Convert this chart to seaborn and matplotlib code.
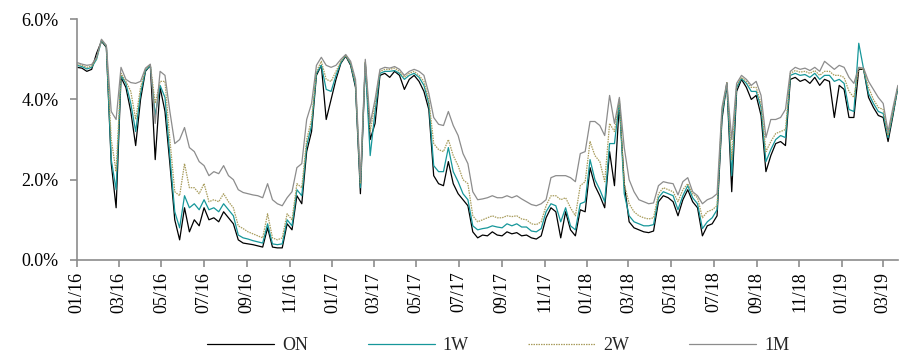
import matplotlib
matplotlib.use("Agg")
import matplotlib.pyplot as plt
import matplotlib.dates as mdates
from matplotlib.ticker import FuncFormatter
import seaborn as sns
import pandas as pd

# weekly readings (% p.a.)
start_date = "2016-01-01"
n_weeks = 169

on_rate = [
    4.80, 4.78, 4.70, 4.75, 5.15, 5.45, 5.30, 2.40, 1.30, 4.55,
    4.30, 3.70, 2.85, 4.00, 4.70, 4.85, 2.50, 4.30, 3.70, 2.40,
    1.00, 0.50, 1.30, 0.70, 1.00, 0.85, 1.30, 1.00, 1.05, 0.95,
    1.20, 1.05, 0.90, 0.50, 0.42, 0.40, 0.38, 0.35, 0.32, 0.80,
    0.32, 0.30, 0.30, 0.90, 0.75, 1.60, 1.40, 2.70, 3.20, 4.60,
    4.85, 3.50, 4.00, 4.50, 4.90, 5.08, 4.85, 4.30, 1.65, 4.90,
    3.00, 3.40, 4.60, 4.65, 4.55, 4.70, 4.60, 4.25, 4.50, 4.60,
    4.45, 4.20, 3.75, 2.10, 1.90, 1.85, 2.45, 1.90, 1.65, 1.50,
    1.35, 0.70, 0.55, 0.62, 0.60, 0.70, 0.62, 0.60, 0.70, 0.65,
    0.68, 0.60, 0.62, 0.55, 0.52, 0.60, 1.05, 1.30, 1.20, 0.55,
    1.20, 0.75, 0.60, 1.25, 1.20, 2.30, 1.85, 1.60, 1.30, 2.70,
    1.85, 3.90, 1.90, 0.95, 0.80, 0.75, 0.70, 0.68, 0.72, 1.45,
    1.60, 1.55, 1.45, 1.10, 1.50, 1.75, 1.45, 1.30, 0.60, 0.85,
    0.90, 1.10, 3.50, 4.40, 1.70, 4.20, 4.50, 4.30, 4.00, 4.10,
    3.60, 2.20, 2.60, 2.90, 2.95, 2.85, 4.50, 4.55, 4.45, 4.50,
    4.40, 4.55, 4.35, 4.50, 4.45, 3.55, 4.35, 4.25, 3.55, 3.55,
    4.75, 4.75, 4.05, 3.80, 3.60, 3.55, 2.95, 3.60, 4.30,
]

w1_rate = [
    4.85, 4.82, 4.76, 4.80, 5.00, 5.47, 5.32, 2.50, 1.75, 4.60,
    4.40, 3.90, 3.20, 4.15, 4.72, 4.85, 3.60, 4.35, 4.05, 2.60,
    1.20, 0.80, 1.60, 1.30, 1.40, 1.25, 1.50, 1.25, 1.30, 1.20,
    1.40, 1.25, 1.10, 0.62, 0.55, 0.52, 0.48, 0.45, 0.42, 0.90,
    0.40, 0.38, 0.40, 1.00, 0.85, 1.75, 1.60, 2.85, 3.35, 4.65,
    4.85, 4.25, 4.20, 4.60, 4.92, 5.10, 4.88, 4.35, 1.80, 4.90,
    2.60, 3.70, 4.65, 4.70, 4.70, 4.72, 4.65, 4.50, 4.60, 4.65,
    4.55, 4.35, 3.90, 2.35, 2.20, 2.20, 2.80, 2.20, 1.95, 1.65,
    1.50, 0.85, 0.75, 0.78, 0.80, 0.85, 0.82, 0.80, 0.90, 0.85,
    0.90, 0.82, 0.82, 0.72, 0.70, 0.78, 1.20, 1.40, 1.35, 0.95,
    1.30, 0.85, 0.75, 1.40, 1.45, 2.50, 2.00, 1.75, 1.45, 2.90,
    2.90, 3.95, 1.65, 1.10, 0.95, 0.90, 0.85, 0.85, 0.88, 1.55,
    1.70, 1.65, 1.60, 1.25, 1.60, 1.85, 1.55, 1.40, 0.78, 0.95,
    1.05, 1.25, 3.60, 4.40, 2.10, 4.30, 4.52, 4.40, 4.20, 4.20,
    3.80, 2.45, 2.75, 3.00, 3.10, 3.05, 4.60, 4.65, 4.60, 4.62,
    4.55, 4.65, 4.50, 4.60, 4.60, 4.45, 4.50, 4.40, 3.75, 3.70,
    5.40, 4.75, 4.15, 3.90, 3.70, 3.65, 3.05, 3.65, 4.30,
]

w2_rate = [
    4.88, 4.85, 4.80, 4.83, 5.02, 5.48, 5.33, 3.00, 2.20, 4.65,
    4.45, 4.20, 3.50, 4.30, 4.75, 4.87, 3.90, 4.45, 4.45, 3.00,
    1.70, 1.60, 2.40, 1.80, 1.80, 1.65, 1.90, 1.45, 1.50, 1.45,
    1.65, 1.45, 1.30, 0.85, 0.78, 0.70, 0.65, 0.60, 0.55, 1.15,
    0.55, 0.50, 0.55, 1.15, 1.00, 1.90, 1.80, 3.00, 3.50, 4.70,
    4.95, 4.50, 4.45, 4.70, 4.95, 5.10, 4.90, 4.40, 1.90, 4.95,
    3.20, 3.90, 4.70, 4.75, 4.75, 4.78, 4.70, 4.55, 4.65, 4.70,
    4.60, 4.45, 4.00, 2.90, 2.75, 2.70, 3.00, 2.60, 2.35, 2.00,
    1.90, 1.10, 0.95, 1.00, 1.05, 1.10, 1.05, 1.05, 1.10, 1.08,
    1.10, 1.02, 1.00, 0.90, 0.88, 0.95, 1.35, 1.60, 1.60, 1.50,
    1.55, 1.30, 1.10, 1.85, 1.95, 2.95, 2.60, 2.45, 1.95, 3.40,
    3.20, 4.00, 1.90, 1.40, 1.20, 1.10, 1.05, 1.02, 1.05, 1.65,
    1.80, 1.75, 1.70, 1.45, 1.75, 1.90, 1.65, 1.55, 1.05, 1.20,
    1.25, 1.35, 3.70, 4.42, 2.50, 4.35, 4.55, 4.45, 4.30, 4.30,
    3.90, 2.70, 2.95, 3.15, 3.20, 3.25, 4.65, 4.72, 4.68, 4.70,
    4.65, 4.72, 4.60, 4.70, 4.70, 4.60, 4.60, 4.55, 4.20, 4.05,
    4.78, 4.75, 4.30, 4.00, 3.80, 3.75, 3.10, 3.70, 4.32,
]

m1_rate = [
    4.92, 4.88, 4.85, 4.87, 5.05, 5.50, 5.35, 3.70, 3.50, 4.80,
    4.50, 4.42, 4.40, 4.45, 4.78, 4.88, 3.40, 4.70, 4.60, 3.70,
    2.90, 3.00, 3.30, 2.80, 2.70, 2.45, 2.35, 2.10, 2.20, 2.15,
    2.35, 2.10, 2.00, 1.75, 1.68, 1.65, 1.62, 1.60, 1.55, 1.90,
    1.50, 1.40, 1.35, 1.55, 1.70, 2.30, 2.40, 3.50, 3.90, 4.85,
    5.05, 4.85, 4.80, 4.85, 5.00, 5.12, 4.95, 4.50, 2.00, 5.00,
    3.40, 4.00, 4.75, 4.80, 4.78, 4.82, 4.75, 4.60, 4.70, 4.75,
    4.70, 4.60, 4.15, 3.55, 3.38, 3.35, 3.70, 3.35, 3.10, 2.65,
    2.40, 1.70, 1.50, 1.52, 1.55, 1.60, 1.55, 1.55, 1.60, 1.55,
    1.60, 1.52, 1.45, 1.38, 1.35, 1.40, 1.50, 2.05, 2.10, 2.10,
    2.10, 2.05, 1.95, 2.65, 2.70, 3.45, 3.45, 3.35, 3.10, 4.10,
    3.40, 4.05, 2.80, 2.00, 1.70, 1.50, 1.45, 1.40, 1.42, 1.85,
    1.95, 1.92, 1.90, 1.62, 1.95, 2.05, 1.70, 1.60, 1.40, 1.50,
    1.55, 1.65, 3.80, 4.42, 3.00, 4.40, 4.60, 4.50, 4.35, 4.45,
    4.10, 3.05, 3.50, 3.50, 3.55, 3.75, 4.70, 4.80, 4.75, 4.78,
    4.72, 4.80, 4.70, 4.95, 4.85, 4.75, 4.85, 4.80, 4.55, 4.40,
    4.80, 4.78, 4.45, 4.25, 4.05, 3.90, 3.20, 3.80, 4.35,
]

tenors = ["ON", "1W", "2W", "1M"]
colors = {"ON": "#000000", "1W": "#16979a", "2W": "#a89c5c", "1M": "#8c8c8c"}
dash_styles = {"ON": "", "1W": "", "2W": (1.2, 0.8), "1M": ""}

dates = pd.date_range(start_date, periods=n_weeks, freq="7D")
wide = pd.DataFrame({"ON": on_rate, "1W": w1_rate, "2W": w2_rate, "1M": m1_rate}, index=dates)
df = wide.reset_index(names="date").melt(id_vars="date", var_name="tenor", value_name="rate")

sns.set_style("ticks")
plt.rcParams["font.family"] = ["Liberation Serif", "DejaVu Serif"]
plt.rcParams["font.size"] = 13

fig = plt.figure(figsize=(9.01, 3.62), dpi=100)
ax = fig.add_axes([0.0855, 0.282, 0.911, 0.665])

sns.lineplot(data=df, x="date", y="rate", hue="tenor", style="tenor",
             hue_order=tenors, style_order=tenors, palette=colors,
             dashes=dash_styles, linewidth=0.9, ax=ax)

ax.set_ylim(0, 6)
ax.set_yticks([0, 2, 4, 6])
ax.yaxis.set_major_formatter(FuncFormatter(lambda v, _: f"{v:.1f}%"))
ax.set_xlim(dates[0], dates[-1])
ax.xaxis.set_major_locator(mdates.MonthLocator(bymonth=[1, 3, 5, 7, 9, 11]))
ax.xaxis.set_major_formatter(mdates.DateFormatter("%m/%y"))
plt.setp(ax.get_xticklabels(), rotation=90)
ax.set_xlabel("")
ax.set_ylabel("")

for side in ["top", "right"]:
    ax.spines[side].set_visible(False)
for side in ["left", "bottom"]:
    ax.spines[side].set_color("#8c8c8c")
    ax.spines[side].set_linewidth(1.2)
ax.tick_params(axis="both", colors="#8c8c8c", length=5, width=1.2, labelcolor="black",
               labelsize=13)
ax.tick_params(axis="y", pad=8)

handles, labels = ax.get_legend_handles_labels()
ax.legend(handles, labels, loc="center", bbox_to_anchor=(0.553, 0.045),
          bbox_transform=fig.transFigure, ncol=4, frameon=False,
          handlelength=3.7, handletextpad=0.45, columnspacing=3.3, fontsize=13)

fig.savefig("out.png", dpi=100)
